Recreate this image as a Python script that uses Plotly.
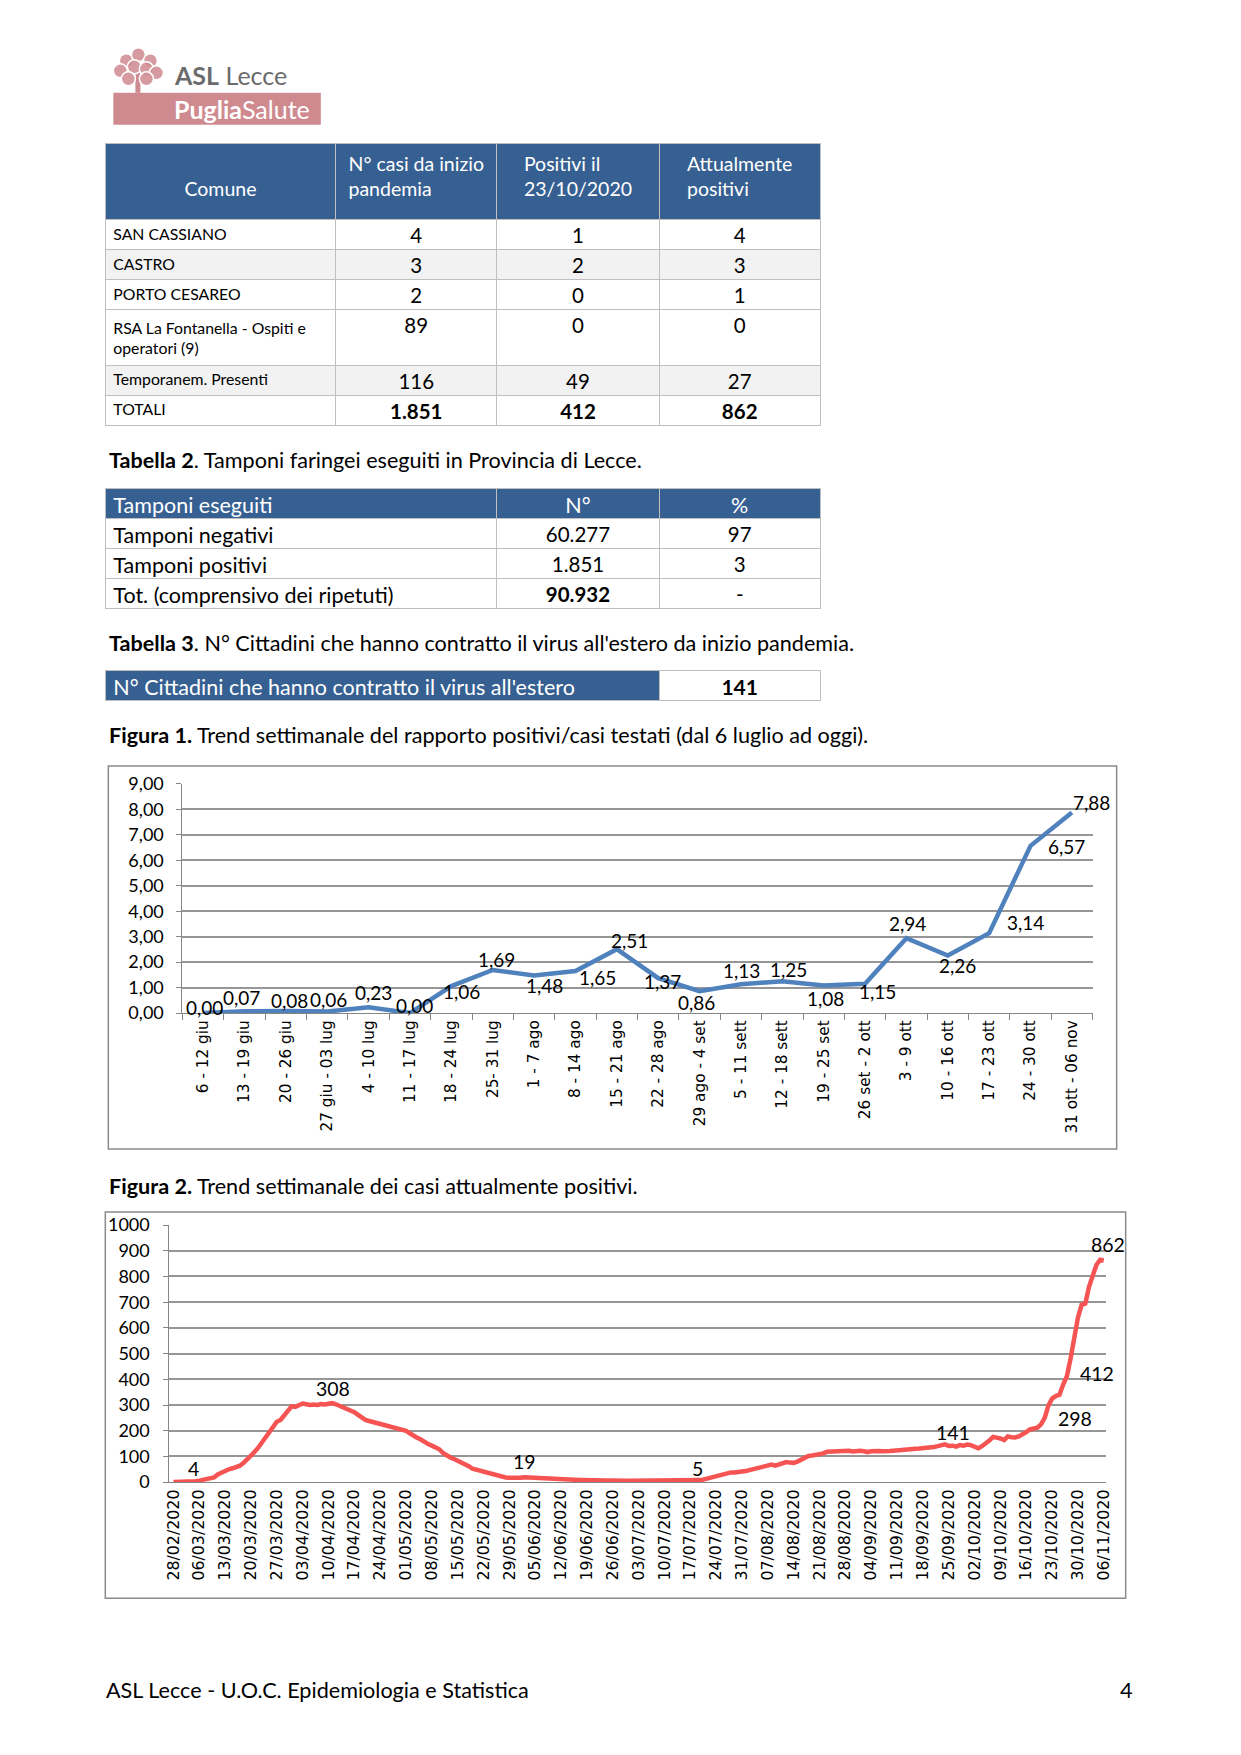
import plotly.graph_objects as go
import pandas as pd

# Page geometry: the browser keeps its default 8px body margin, so the figure is
# 16px smaller than the window. The photographed page comes out slightly scaled
# about its centre, so page coordinates are pre-expanded by that factor.
PAGE_W, PAGE_H = 1241, 1755
OFF = 8
W, H = PAGE_W - 2 * OFF, PAGE_H - 2 * OFF
S = 0.9871
CX, CY = PAGE_W / 2, PAGE_H / 2
FONT = "Lato"
TICKFONT = "DejaVu Sans"
BLUE = "#376092"
GRID = "#969696"
AXIS = "#868686"
BORDER = "#bfbfbf"

# ---------------- data ----------------
t1_header = ["\u00a0<br>Comune", "N° casi da inizio<br>pandemia", "Positivi il<br>23/10/2020",
             "Attualmente<br>positivi"]
t1_comune = ["SAN CASSIANO", "CASTRO", "PORTO CESAREO", "RSA La Fontanella - Ospiti e<br>operatori (9)",
             "Temporanem. Presenti", "TOTALI"]
t1_casi = [4, 3, 2, 89, 116, 1851]
t1_positivi = [1, 2, 0, 0, 49, 412]
t1_attuali = [4, 3, 1, 0, 27, 862]

t2_header = ["Tamponi eseguiti", "N°", "%"]
t2_labels = ["Tamponi negativi", "Tamponi positivi", "Tot. (comprensivo dei ripetuti)"]
t2_n = [60277, 1851, 90932]
t2_pct = ["97", "3", "-"]

t3_label = "N° Cittadini che hanno contratto il virus all'estero"
t3_value = 141

weeks = ["6 - 12 giu", "13 - 19 giu", "20 - 26 giu", "27 giu - 03 lug", "4 - 10 lug", "11 - 17 lug",
         "18 - 24 lug", "25- 31 lug", "1 - 7 ago", "8 - 14 ago", "15 - 21 ago", "22 - 28 ago",
         "29 ago - 4 set", "5 - 11 sett", "12 - 18 sett", "19 - 25 set", "26 set - 2 ott", "3 - 9 ott",
         "10 - 16 ott", "17 - 23 ott", "24 - 30 ott", "31 ott - 06 nov"]
ratio = [0.00, 0.07, 0.08, 0.06, 0.23, 0.00, 1.06, 1.69, 1.48, 1.65, 2.51, 1.37, 0.86, 1.13, 1.25,
         1.08, 1.15, 2.94, 2.26, 3.14, 6.57, 7.88]

start_date = "2020-02-28"
positives = [
    1, 1, 1, 2, 3, 3, 4, 6, 9, 12,
    12, 18, 30, 38, 45, 50, 54, 58, 64, 75,
    88, 105, 118, 135, 155, 170, 190, 212, 235, 242,
    262, 280, 295, 293, 300, 306, 303, 300, 302, 300,
    304, 302, 305, 308, 303, 297, 291, 285, 279, 272,
    262, 250, 242, 238, 234, 230, 226, 224, 220, 215,
    212, 208, 206, 200, 190, 180, 173, 166, 156, 148,
    142, 137, 128, 114, 104, 96, 90, 84, 76, 70,
    62, 52, 48, 45, 42, 38, 32, 28, 24, 20,
    18, 17, 16, 16, 17, 19, 18, 18, 17, 17,
    16, 16, 14, 12, 11, 10, 10, 9, 9, 8,
    8, 8, 7, 7, 7, 6, 6, 6, 6, 5,
    5, 5, 6, 5, 5, 5, 5, 6, 6, 8,
    9, 9, 8, 8, 8, 7, 6, 5, 5, 5,
    5, 5, 6, 8, 12, 16, 20, 24, 27, 33,
    37, 38, 38, 39, 40, 43, 47, 50, 53, 57,
    60, 66, 68, 64, 68, 74, 78, 76, 75, 80,
    88, 96, 102, 104, 106, 108, 112, 118, 119, 120,
    120, 121, 123, 122, 119, 121, 122, 120, 117, 120,
    122, 121, 120, 119, 121, 122, 124, 125, 127, 128,
    130, 130, 131, 132, 132, 134, 137, 140, 144, 147,
    141, 142, 138, 144, 142, 146, 144, 138, 132, 140,
    150, 162, 176, 174, 170, 164, 178, 175, 174, 178,
    185, 195, 205, 208, 212, 225, 250, 298, 325, 335,
    340, 380, 412, 480, 560, 640, 690, 695, 760, 810,
    845, 865, 862,
]
labelled_days = [6, 43, 95, 141, 210, 237, 242, 252]
date_ticks = ["28/02/2020", "06/03/2020", "13/03/2020", "20/03/2020", "27/03/2020", "03/04/2020",
              "10/04/2020", "17/04/2020", "24/04/2020", "01/05/2020", "08/05/2020", "15/05/2020",
              "22/05/2020", "29/05/2020", "05/06/2020", "12/06/2020", "19/06/2020", "26/06/2020",
              "03/07/2020", "10/07/2020", "17/07/2020", "24/07/2020", "31/07/2020", "07/08/2020",
              "14/08/2020", "21/08/2020", "28/08/2020", "04/09/2020", "11/09/2020", "18/09/2020",
              "25/09/2020", "02/10/2020", "09/10/2020", "16/10/2020", "23/10/2020", "30/10/2020",
              "06/11/2020"]

# label offsets (pixels, right / down) – style only
ratio_label_shift = [(1, -6), (-3, -14), (4, -10), (1, -12), (5, -15), (4, -8), (10, 5), (4, -11),
                     (10, 10), (22, 6), (13, -9), (4, 3), (-3, 11), (1, -14), (6, -12), (2, 13),
                     (12, 8), (1, -15), (10, 10), (36, -11), (36, 1), (20, -10)]
pos_label_shift = [(-2, -13), (1, -14), (0, -16), (4, -12), (4, -13), (27, 13), (30, -3), (4, -16)]


# ---------------- helpers ----------------
def px(x):
    return (CX + (x - CX) / S - OFF) / W


def py(y):
    return 1 - (CY + (y - CY) / S - OFF) / H


def it(n):
    return f"{n:,}".replace(",", ".")


def dec(v):
    return f"{v:.2f}".replace(".", ",")


fig = go.Figure()

# ---------------- Table 1 (body rows, then the totals row) ----------------
row_fill = ["white", "#f2f2f2", "white", "white", "#f2f2f2"]
t1_cols = [t1_casi, t1_positivi, t1_attuali]
fig.add_trace(go.Table(
    domain=dict(x=[px(107), px(821)], y=[py(400), py(143)]),
    columnwidth=[230, 161, 162, 161],
    header=dict(values=t1_header, fill_color=BLUE, height=76, align="center",
                font=dict(family=FONT, size=19.5, color="white"),
                line=dict(color=BORDER, width=1)),
    cells=dict(values=[t1_comune[:-1]] + [[it(v) for v in c[:-1]] for c in t1_cols],
               fill_color=[row_fill] * 4, height=30,
               align=["left", "center", "center", "center"],
               font=dict(family=FONT, size=[15.8, 20.5, 20.5, 20.5], color="black"),
               line=dict(color=BORDER, width=1)),
))
fig.add_trace(go.Table(
    domain=dict(x=[px(107), px(821)], y=[py(426), py(394.5)]),
    columnwidth=[230, 161, 162, 161],
    header=dict(values=[t1_comune[-1]] + [it(c[-1]) for c in t1_cols], fill_color="white", height=30,
                align=["left", "center", "center", "center"],
                font=dict(family=FONT, size=[15.8, 20.5, 20.5, 20.5], color="black",
                          weight=[400, 700, 700, 700]),
                line=dict(color=BORDER, width=1)),
    cells=dict(values=[[], [], [], []], height=0),
))

# ---------------- Table 2 ----------------
fig.add_trace(go.Table(
    domain=dict(x=[px(107), px(821)], y=[py(585), py(488)]),
    columnwidth=[391, 162, 161],
    header=dict(values=t2_header, fill_color=BLUE, height=30, align=["left", "center", "center"],
                font=dict(family=FONT, size=21.5, color="white"),
                line=dict(color=BORDER, width=1)),
    cells=dict(values=[t2_labels[:-1], [it(v) for v in t2_n[:-1]], t2_pct[:-1]],
               fill_color="white", height=30, align=["left", "center", "center"],
               font=dict(family=FONT, size=[21.5, 20.5, 20.5], color="black"),
               line=dict(color=BORDER, width=1)),
))
fig.add_trace(go.Table(
    domain=dict(x=[px(107), px(821)], y=[py(612), py(578)]),
    columnwidth=[391, 162, 161],
    header=dict(values=[t2_labels[-1], it(t2_n[-1]), t2_pct[-1]], fill_color="white", height=30,
                align=["left", "center", "center"],
                font=dict(family=FONT, size=[21.5, 20.5, 20.5], color="black", weight=[400, 700, 400]),
                line=dict(color=BORDER, width=1)),
    cells=dict(values=[[], [], []], height=0),
))

# ---------------- Table 3 ----------------
fig.add_trace(go.Table(
    domain=dict(x=[px(107), px(821)], y=[py(705), py(670)]),
    columnwidth=[553, 161],
    header=dict(values=[t3_label, str(t3_value)], fill_color=[BLUE, "white"], height=30,
                align=["left", "center"],
                font=dict(family=FONT, size=[21.5, 21], color=["white", "black"], weight=[400, 700]),
                line=dict(color=BORDER, width=1)),
    cells=dict(values=[[], []], height=0),
))

# ---------------- Figure 1 ----------------
fig.add_trace(go.Scatter(
    x=weeks, y=ratio, mode="lines", line=dict(color="#4f81bd", width=4.5),
    hoverinfo="skip", xaxis="x", yaxis="y", showlegend=False,
))
for i, (wk, v) in enumerate(zip(weeks, ratio)):
    dx, dy = ratio_label_shift[i]
    fig.add_annotation(x=wk, y=v, xref="x", yref="y", text=dec(v), showarrow=False,
                       xanchor="center", yanchor="middle", xshift=dx, yshift=-dy,
                       font=dict(family=FONT, size=19, color="black"))

# ---------------- Figure 2 ----------------
dates = pd.date_range(start_date, periods=len(positives), freq="D")
tick_dates = [pd.to_datetime(d, format="%d/%m/%Y") for d in date_ticks]
fig.add_trace(go.Scatter(
    x=dates, y=positives, mode="lines", line=dict(color="#f65353", width=4.5),
    hoverinfo="skip", xaxis="x2", yaxis="y2", showlegend=False,
))
for k, d in enumerate(labelled_days):
    dx, dy = pos_label_shift[k]
    fig.add_annotation(x=dates[d], y=positives[d], xref="x2", yref="y2", text=str(positives[d]),
                       showarrow=False, xanchor="center", yanchor="middle", xshift=dx, yshift=-dy,
                       font=dict(family=FONT, size=19.5, color="black"))

# ---------------- layout ----------------
axis_common = dict(showline=True, linecolor=AXIS, linewidth=1.2, fixedrange=True, zeroline=False)
fig.update_layout(
    width=W, height=H, margin=dict(l=0, r=0, t=0, b=0),
    paper_bgcolor="white", plot_bgcolor="white", separators=",.",
    showlegend=False,
    xaxis=dict(domain=[px(184), px(1092)], anchor="y", type="category", range=[-0.5, len(weeks) - 0.5],
               tickmode="array", tickvals=weeks, ticktext=weeks, tickangle=-90, ticks="outside",
               tickson="boundaries", ticklen=6, tickcolor=AXIS, showgrid=False,
               tickfont=dict(family=TICKFONT, size=15.3, color="black"), **axis_common),
    yaxis=dict(domain=[py(1012), py(783)], anchor="x", range=[0, 9], dtick=1, tickformat=".2f",
               showgrid=True, gridcolor=GRID, gridwidth=1.5, ticks="outside", ticklen=5, tickcolor=AXIS,
               ticklabelstandoff=9,
               tickfont=dict(family=FONT, size=18, color="black"), **axis_common),
    xaxis2=dict(domain=[px(171), px(1105)], anchor="y2", type="date",
                range=["2020-02-26 22:00", "2020-11-06 12:00"], tickmode="array",
                tickvals=tick_dates, ticktext=date_ticks, tickangle=-90, ticks="", showgrid=False,
                tickfont=dict(family=TICKFONT, size=15.8, color="black"), **axis_common),
    yaxis2=dict(domain=[py(1481), py(1224)], anchor="x2", range=[0, 1000], dtick=100,
                showgrid=True, gridcolor=GRID, gridwidth=1.5, ticks="outside", ticklen=5, tickcolor=AXIS,
                ticklabelstandoff=10,
                tickfont=dict(family=FONT, size=18, color="black"), **axis_common),
)

shapes = [
    # chart frames
    dict(type="rect", xref="paper", yref="paper", x0=px(110), x1=px(1116), y0=py(1148), y1=py(765),
         line=dict(color="#8a8a8a", width=1.5), fillcolor="rgba(0,0,0,0)", layer="below"),
    dict(type="rect", xref="paper", yref="paper", x0=px(107), x1=px(1125), y0=py(1597), y1=py(1211),
         line=dict(color="#8a8a8a", width=1.5), fillcolor="rgba(0,0,0,0)", layer="below"),
    # logo band
    dict(type="rect", xref="paper", yref="paper", x0=px(115), x1=px(322), y0=py(124), y1=py(92),
         line=dict(width=0), fillcolor="#cf8a90"),
    # tree trunk
    dict(type="rect", xref="paper", yref="paper", x0=px(137), x1=px(142), y0=py(92), y1=py(72),
         line=dict(width=0), fillcolor="#cf8a90"),
]
for cx, cy in [(128, 60), (140, 54), (152, 60), (122, 70), (136, 66), (148, 68), (158, 72), (130, 78), (148, 78)]:
    shapes.append(dict(type="circle", xref="paper", yref="paper", x0=px(cx - 7), x1=px(cx + 7),
                       y0=py(cy + 7), y1=py(cy - 7), line=dict(color="white", width=1.5),
                       fillcolor="rgba(207,138,144,0.85)"))
fig.update_layout(shapes=shapes)


def note(x, y, text, size=21.6, color="black", xanchor="left", family=FONT):
    fig.add_annotation(x=px(x), y=py(y), xref="paper", yref="paper", text=text, showarrow=False,
                       xanchor=xanchor, yanchor="middle", font=dict(family=family, size=size, color=color))


note(174, 74, "<b>ASL</b> Lecce", size=25, color="#6b6b6b")
note(174, 108, "<b>Puglia</b>Salute", size=25, color="white")
note(109, 459, "<b>Tabella 2</b>. Tamponi faringei eseguiti in Provincia di Lecce.")
note(109, 642, "<b>Tabella 3</b>. N° Cittadini che hanno contratto il virus all'estero da inizio pandemia.")
note(109, 734, "<b>Figura 1.</b> Trend settimanale del rapporto positivi/casi testati (dal 6 luglio ad oggi).")
note(109, 1185, "<b>Figura 2.</b> Trend settimanale dei casi attualmente positivi.")
note(106, 1689, "ASL Lecce - U.O.C. Epidemiologia e Statistica")
note(1134, 1689, "4", xanchor="right")

fig.write_html("out.html", config={"displayModeBar": False})
